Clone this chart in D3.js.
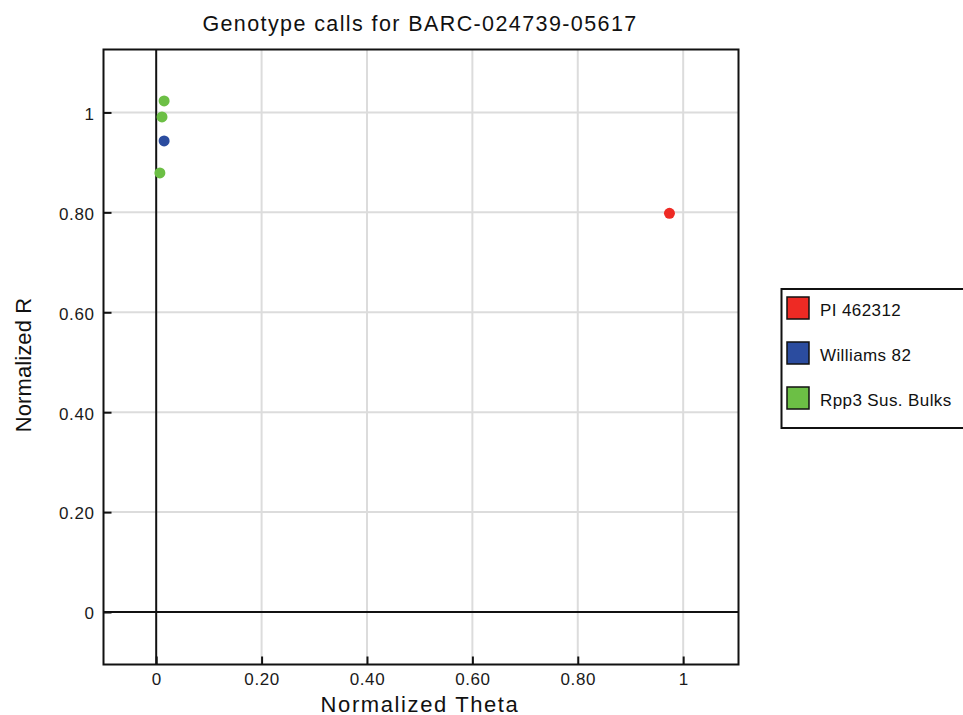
<!DOCTYPE html>
<html>
<head>
<meta charset="utf-8">
<script src="https://cdn.jsdelivr.net/npm/d3@7"></script>
<style>
  body { margin: 0; background: #fff; }
  svg { font-family: "Liberation Sans", Arial, sans-serif; }
</style>
</head>
<body>
<div id="chart"></div>
<script>
// Series and their samples (Normalized Theta, Normalized R)
const seriesNames = ["PI 462312", "Williams 82", "Rpp3 Sus. Bulks"];
const seriesColors = ["#ee2a24", "#2b4c9f", "#6cbf45"];
const pointSeries = [0, 1, 2, 2, 2];
const pointTheta = [0.974, 0.015, 0.015, 0.011, 0.007];
const pointR = [0.798, 0.943, 1.023, 0.991, 0.879];

const xTicks = [0, 0.2, 0.4, 0.6, 0.8, 1];
const yTicks = [0, 0.2, 0.4, 0.6, 0.8, 1];
const tickLabel = d => d === 0 ? "0" : d === 1 ? "1" : d.toFixed(2);

const width = 963, height = 715;
const plot = { left: 103.5, right: 738.5, top: 49.5, bottom: 664.5 };

const svg = d3.select("#chart").append("svg")
    .attr("width", width)
    .attr("height", height);

const x = d3.scaleLinear().domain([-0.1, 1.105]).range([plot.left, plot.right]);
const y = d3.scaleLinear().domain([-0.105, 1.126]).range([plot.bottom, plot.top]);

// grid
svg.append("g")
    .attr("stroke", "#dcdcdc")
    .attr("stroke-width", 2)
    .selectAll("line")
    .data(xTicks.filter(d => d !== 0))
    .enter().append("line")
    .attr("x1", d => x(d)).attr("x2", d => x(d))
    .attr("y1", plot.top).attr("y2", plot.bottom);

svg.append("g")
    .attr("stroke", "#dcdcdc")
    .attr("stroke-width", 2)
    .selectAll("line")
    .data(yTicks.filter(d => d !== 0))
    .enter().append("line")
    .attr("y1", d => y(d)).attr("y2", d => y(d))
    .attr("x1", plot.left).attr("x2", plot.right);

// zero lines
svg.append("line")
    .attr("x1", x(0)).attr("x2", x(0))
    .attr("y1", plot.top).attr("y2", plot.bottom)
    .attr("stroke", "#111").attr("stroke-width", 2);
svg.append("line")
    .attr("x1", plot.left).attr("x2", plot.right)
    .attr("y1", y(0)).attr("y2", y(0))
    .attr("stroke", "#111").attr("stroke-width", 2);

// axes with inward ticks
const xAxis = svg.append("g")
    .attr("transform", `translate(0,${plot.bottom})`)
    .call(d3.axisBottom(x).tickValues(xTicks).tickFormat(tickLabel)
        .tickSizeInner(-8).tickSizeOuter(0));
const yAxis = svg.append("g")
    .attr("transform", `translate(${plot.left},0)`)
    .call(d3.axisLeft(y).tickValues(yTicks).tickFormat(tickLabel)
        .tickSizeInner(-8).tickSizeOuter(0).tickPadding(9));

[xAxis, yAxis].forEach(a => {
    a.select(".domain").remove();
    a.selectAll(".tick line").attr("stroke", "#111").attr("stroke-width", 2);
    a.selectAll(".tick text")
        .attr("fill", "#1a1a1a")
        .style("font-size", "17px")
        .style("letter-spacing", "0.6px")
        .style("font-family", "'Liberation Sans', Arial, sans-serif");
});
xAxis.selectAll(".tick text").attr("y", 20.5).attr("dy", 0);
yAxis.selectAll(".tick text").attr("dy", "0.4em");

// frame
svg.append("rect")
    .attr("x", plot.left).attr("y", plot.top)
    .attr("width", plot.right - plot.left)
    .attr("height", plot.bottom - plot.top)
    .attr("fill", "none")
    .attr("stroke", "#111")
    .attr("stroke-width", 2);

// points
svg.append("g")
    .selectAll("circle")
    .data(pointTheta.map((t, i) => ({ t: t, r: pointR[i], s: pointSeries[i] })))
    .enter().append("circle")
    .attr("cx", d => x(d.t))
    .attr("cy", d => y(d.r))
    .attr("r", 5.5)
    .attr("fill", d => seriesColors[d.s]);

// title and axis labels
svg.append("text")
    .attr("x", 420).attr("y", 31)
    .attr("text-anchor", "middle")
    .style("font-size", "21.5px")
    .style("letter-spacing", "1.4px")
    .attr("fill", "#111")
    .text("Genotype calls for BARC-024739-05617");

svg.append("text")
    .attr("x", 420).attr("y", 711.5)
    .attr("text-anchor", "middle")
    .style("font-size", "22px")
    .style("letter-spacing", "1.6px")
    .attr("fill", "#111")
    .text("Normalized Theta");

svg.append("text")
    .attr("transform", "translate(31,365) rotate(-90)")
    .attr("text-anchor", "middle")
    .style("font-size", "22px")
    .style("letter-spacing", "0.1px")
    .attr("fill", "#111")
    .text("Normalized R");

// legend
const legend = svg.append("g");
legend.append("rect")
    .attr("x", 781.5).attr("y", 289)
    .attr("width", 190).attr("height", 139)
    .attr("fill", "#fff")
    .attr("stroke", "#111")
    .attr("stroke-width", 2);

const item = legend.selectAll("g.item")
    .data(seriesNames)
    .enter().append("g")
    .attr("class", "item")
    .attr("transform", (d, i) => `translate(787,${297 + i * 45})`);
item.append("rect")
    .attr("width", 22).attr("height", 22)
    .attr("fill", (d, i) => seriesColors[i])
    .attr("stroke", "#111")
    .attr("stroke-width", 1.5);
item.append("text")
    .attr("x", 33).attr("y", 19)
    .style("font-size", "17px")
    .style("letter-spacing", "0.4px")
    .attr("fill", "#111")
    .text(d => d);
</script>
</body>
</html>
